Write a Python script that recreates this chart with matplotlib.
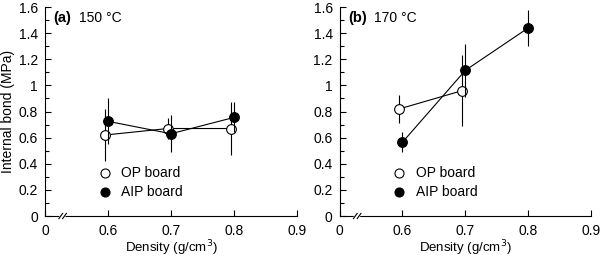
import matplotlib
matplotlib.use("Agg")
import matplotlib.pyplot as plt
from matplotlib.lines import Line2D

plt.rcParams['font.family'] = ['Liberation Sans', 'DejaVu Sans']

# Panel (a) 150 °C
a_op_x = [0.595, 0.695, 0.795]
a_op_y = [0.62, 0.67, 0.67]
a_op_err = [0.20, 0.08, 0.20]
a_aip_x = [0.600, 0.700, 0.800]
a_aip_y = [0.725, 0.63, 0.755]
a_aip_err = [0.175, 0.14, 0.115]

# Panel (b) 170 °C
b_op_x = [0.595, 0.695]
b_op_y = [0.82, 0.96]
b_op_err = [0.11, 0.27]
b_aip_x = [0.600, 0.700, 0.800]
b_aip_y = [0.565, 1.115, 1.44]
b_aip_err = [0.075, 0.20, 0.135]

xticks = [0.5, 0.6, 0.7, 0.8, 0.9]
xticklabels = ["0", "0.6", "0.7", "0.8", "0.9"]
yticks = [0, 0.2, 0.4, 0.6, 0.8, 1.0, 1.2, 1.4, 1.6]
yticklabels = ["0", "0.2", "0.4", "0.6", "0.8", "1", "1.2", "1.4", "1.6"]
series_labels = ["OP board", "AIP board"]

fig = plt.figure(figsize=(6, 2.57), dpi=100)
ax_a = fig.add_axes([0.075, 0.1595, 0.42, 0.813])
ax_b = fig.add_axes([0.566, 0.1595, 0.419, 0.813])

panels = [
    (ax_a, "(a)", "150 °C", a_op_x, a_op_y, a_op_err, a_aip_x, a_aip_y, a_aip_err, True),
    (ax_b, "(b)", "170 °C", b_op_x, b_op_y, b_op_err, b_aip_x, b_aip_y, b_aip_err, False),
]

for ax, tag, temp, ox, oy, oe, ax_x, ay, ae, ylab in panels:
    ax.errorbar(ox, oy, yerr=oe, fmt='-o', color='black', lw=0.8, elinewidth=0.8,
                capsize=0, mfc='white', mec='black', ms=7, mew=0.8, zorder=3)
    ax.errorbar(ax_x, ay, yerr=ae, fmt='-o', color='black', lw=0.8, elinewidth=0.8,
                capsize=0, mfc='black', mec='black', ms=7, mew=0.8, zorder=4)
    ax.set_xlim(0.5, 0.9)
    ax.set_ylim(0, 1.6)
    ax.set_xticks(xticks)
    ax.set_xticklabels(xticklabels, fontsize=10)
    ax.set_yticks(yticks)
    ax.set_yticklabels(yticklabels, fontsize=10)
    ax.set_yticks([0.1, 0.3, 0.5, 0.7, 0.9, 1.1, 1.3, 1.5], minor=True)
    ax.tick_params(axis='both', direction='in', length=4, width=0.8)
    ax.tick_params(axis='x', pad=6)
    ax.tick_params(axis='y', pad=5)
    ax.tick_params(axis='y', which='minor', direction='in', length=3, width=0.8)
    for s in ['top', 'right']:
        ax.spines[s].set_visible(False)
    for s in ['left', 'bottom']:
        ax.spines[s].set_linewidth(0.8)
    ax.set_xlabel("Density (g/cm$^3$)", fontsize=9.5, labelpad=0)
    if ylab:
        ax.set_ylabel("Internal bond (MPa)", fontsize=10, labelpad=3)
    ax.text(0.513, 1.515, tag, fontsize=10.5, fontweight='bold', ha='left', va='center')
    ax.text(0.554, 1.515, temp, fontsize=10, ha='left', va='center')
    # axis break mark
    ax.plot([0.525, 0.532], [-0.015, 0.015], color='white', lw=3, clip_on=False, zorder=5)
    for dx in (0.0, 0.006):
        ax.plot([0.522 + dx, 0.528 + dx], [-0.02, 0.02], color='black', lw=0.8,
                clip_on=False, zorder=6)
    # legend (manual placement)
    for i, (lab, fc) in enumerate(zip(series_labels, ('white', 'black'))):
        yy = 0.206 - i * 0.091
        ax.add_line(Line2D([0.238], [yy], ls='none', marker='o', mfc=fc, mec='black',
                           ms=6.5, mew=0.8, transform=ax.transAxes, clip_on=False))
        ax.text(0.303, yy, lab, fontsize=10, ha='left', va='center',
                transform=ax.transAxes)

fig.savefig("out.png", dpi=100)
